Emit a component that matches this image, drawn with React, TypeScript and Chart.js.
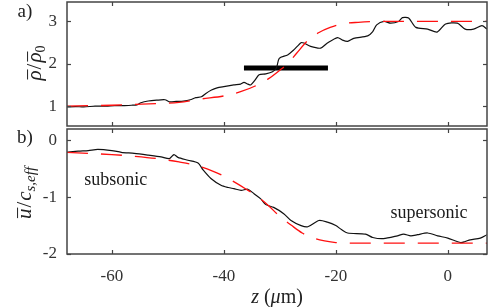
import React, { useEffect, useRef } from "react";
import { Chart, registerables } from "chart.js";
Chart.register(...registerables);

// ---- axes ----
const zMin = -68;
const zMax = 7;
const zTicks = [-60, -40, -20, 0];
const rhoMin = 0.53;
const rhoMax = 3.46;
const rhoTicks = [1, 2, 3];
const uMin = -2;
const uMax = 0.2;
const uTicks = [-2, -1, 0];

// ---- panel a: density ----
const rhoZ = [-68, -66.5, -65, -63, -61, -59.5, -58, -56.5, -55.5, -54.8, -53.5, -52, -50.5, -49.7, -48.5, -47.2, -46, -45, -44, -43.2, -42.2, -41.2, -40, -38.2, -37, -36.4, -35.7, -35.2, -34.5, -33.7, -32.5, -31.3, -30.6, -30.1, -28.6, -27.5, -26.2, -25.7, -24.5, -22.7, -21.5, -19.7, -18.8, -17.9, -16.8, -14.3, -13.4, -12.7, -11.4, -10.2, -8.8, -8.1, -7.0, -5.7, -3.6, -1.9, -0.4, 1.7, 3.1, 4.6, 6.1, 7];
const rhoVals = [0.98, 0.99, 0.98, 1.0, 1.0, 1.01, 1.01, 1.02, 1.03, 1.08, 1.12, 1.14, 1.15, 1.1, 1.11, 1.12, 1.15, 1.2, 1.22, 1.3, 1.38, 1.43, 1.46, 1.5, 1.52, 1.56, 1.52, 1.5, 1.6, 1.74, 1.76, 1.81, 1.9, 2.13, 2.21, 2.33, 2.5, 2.49, 2.41, 2.37, 2.49, 2.62, 2.56, 2.53, 2.6, 2.66, 2.76, 2.92, 3.0, 2.96, 3.0, 3.09, 3.08, 2.86, 2.82, 2.75, 2.94, 2.96, 2.82, 2.82, 2.9, 2.82];
const rhoFitZ = [-68, -64, -60, -56, -52, -48, -44, -40, -37, -34, -32, -30, -28.5, -27, -25, -23, -21, -19, -16, -12, -5, 0, 7];
const rhoFitVals = [1.0, 1.01, 1.02, 1.04, 1.06, 1.09, 1.17, 1.24, 1.34, 1.5, 1.65, 1.85, 2.02, 2.25, 2.55, 2.74, 2.86, 2.94, 2.98, 3.0, 3.0, 3.0, 3.0];
const barZ = [-36.4, -21.4];
const barRho = [1.9, 1.9];

// ---- panel b: velocity ----
const uZ = [-68, -66, -64.2, -62.5, -60, -58.3, -56, -53.5, -51.2, -49.7, -48.9, -48.2, -46.4, -44.6, -43.7, -42.3, -40.5, -39.2, -38.2, -36.9, -35.7, -34.6, -33.4, -32.5, -31.1, -29.3, -28, -26.2, -25, -23, -21.5, -20, -19, -17.9, -14.7, -13.4, -11.5, -9, -7.9, -6.6, -5.4, -3.6, -1.8, 0, 2.3, 3.1, 4, 5.8, 7];
const uVals = [-0.21, -0.19, -0.18, -0.16, -0.18, -0.21, -0.23, -0.26, -0.29, -0.32, -0.25, -0.3, -0.35, -0.4, -0.52, -0.67, -0.79, -0.83, -0.85, -0.88, -0.86, -0.94, -1.03, -1.13, -1.18, -1.29, -1.41, -1.5, -1.52, -1.41, -1.44, -1.5, -1.57, -1.63, -1.65, -1.71, -1.73, -1.68, -1.65, -1.68, -1.66, -1.63, -1.68, -1.72, -1.8, -1.78, -1.75, -1.72, -1.66];
const uFitZ = [-68, -64, -60, -56, -52, -48, -45, -42, -40, -38, -36, -34, -32, -30, -28, -26, -24, -22, -20, -16, -8, 0, 7];
const uFitVals = [-0.21, -0.23, -0.25, -0.28, -0.32, -0.38, -0.44, -0.54, -0.63, -0.74, -0.86, -0.99, -1.15, -1.34, -1.49, -1.63, -1.72, -1.77, -1.8, -1.81, -1.81, -1.81, -1.81];

const notesText = ["subsonic", "supersonic"];
const notesZ = [-59.3, -3.35];
const notesU = [-0.79, -1.36];

const FONT = "'Liberation Serif', 'Times New Roman', serif";
const AXIS = "#444";
const TXT = "#333";
const RED = "#ff1010";

const pts = (xs: number[], ys: number[]) => xs.map((x, i) => ({ x, y: ys[i] }));

type Seg = { t: string; size: number; italic?: boolean; dy?: number; over?: boolean; gap?: number };

function drawSegs(ctx: CanvasRenderingContext2D, segs: Seg[], x: number, y: number, rotate: boolean, color = "#222") {
  ctx.save();
  ctx.translate(x, y);
  if (rotate) ctx.rotate(-Math.PI / 2);
  ctx.fillStyle = color;
  ctx.strokeStyle = color;
  ctx.textAlign = "left";
  ctx.textBaseline = "alphabetic";
  let total = 0;
  const widths = segs.map((s) => {
    ctx.font = `${s.italic ? "italic " : ""}${s.size}px ${FONT}`;
    const w = ctx.measureText(s.t).width + (s.gap || 0);
    total += w;
    return w;
  });
  let cx = -total / 2;
  segs.forEach((s, i) => {
    ctx.font = `${s.italic ? "italic " : ""}${s.size}px ${FONT}`;
    ctx.fillText(s.t, cx, s.dy || 0);
    if (s.over) {
      const tw = ctx.measureText(s.t).width;
      ctx.beginPath();
      ctx.lineWidth = 1;
      ctx.moveTo(cx + 1, -s.size * 0.64);
      ctx.lineTo(cx + tw + 1, -s.size * 0.64);
      ctx.stroke();
    }
    cx += widths[i];
  });
  ctx.restore();
}

function framePlugin(yTicks: number[]) {
  return {
    id: "frame",
    afterDraw(chart: any) {
      const { ctx, chartArea: a, scales } = chart;
      ctx.save();
      ctx.strokeStyle = AXIS;
      ctx.lineWidth = 1.5;
      ctx.strokeRect(a.left, a.top, a.right - a.left, a.bottom - a.top);
      ctx.lineWidth = 1.2;
      const L = 4;
      const seg = (x1: number, y1: number, x2: number, y2: number) => {
        ctx.beginPath();
        ctx.moveTo(x1, y1);
        ctx.lineTo(x2, y2);
        ctx.stroke();
      };
      zTicks.forEach((v) => {
        const px = Math.round(scales.x.getPixelForValue(v)) + 0.5;
        seg(px, a.top, px, a.top + L);
        seg(px, a.bottom, px, a.bottom - L);
      });
      yTicks.forEach((v) => {
        const py = Math.round(scales.y.getPixelForValue(v)) + 0.5;
        seg(a.left, py, a.left + L, py);
        seg(a.right, py, a.right - L, py);
      });
      ctx.restore();
    },
  };
}

const tickFont = { family: FONT, size: 17 };

function makeY(min: number, max: number, ticks: number[]) {
  return {
    min,
    max,
    afterBuildTicks: (s: any) => {
      s.ticks = ticks.map((v) => ({ value: v }));
    },
    afterFit: (s: any) => {
      s.width = 67;
      s.paddingTop = 0;
      s.paddingBottom = 0;
    },
    grid: { display: false, drawTicks: false },
    border: { display: false },
    ticks: { font: tickFont, color: TXT, padding: 10 },
  };
}

export default function App() {
  const topRef = useRef<HTMLCanvasElement>(null);
  const botRef = useRef<HTMLCanvasElement>(null);

  useEffect(() => {
    const labelsA = {
      id: "labelsA",
      afterDraw(chart: any) {
        const ctx = chart.ctx;
        drawSegs(ctx, [{ t: "a)", size: 19 }], 25, 17, false);
        drawSegs(
          ctx,
          [
            { t: "ρ", size: 21, italic: true, over: true, gap: 1 },
            { t: "/", size: 21, gap: 1 },
            { t: "ρ", size: 21, italic: true, over: true },
            { t: "0", size: 14, dy: 4 },
          ],
          41,
          63,
          true
        );
      },
    };
    const labelsB = {
      id: "labelsB",
      afterDraw(chart: any) {
        const ctx = chart.ctx;
        const { scales } = chart;
        drawSegs(ctx, [{ t: "b)", size: 19 }], 25, 15, false);
        drawSegs(
          ctx,
          [
            { t: "u", size: 21, italic: true, over: true, gap: 1 },
            { t: "/", size: 21, gap: 1 },
            { t: "c", size: 21, italic: true },
            { t: "s,eff", size: 15, italic: true, dy: 4 },
          ],
          31,
          65,
          true
        );
        notesText.forEach((t, i) => {
          drawSegs(ctx, [{ t, size: 18 }], scales.x.getPixelForValue(notesZ[i]), scales.y.getPixelForValue(notesU[i]), false, "#1a1a1a");
        });
        const a = chart.chartArea;
        drawSegs(
          ctx,
          [
            { t: "z", size: 20, italic: true },
            { t: " (", size: 20 },
            { t: "μ", size: 20, italic: true },
            { t: "m)", size: 20 },
          ],
          (a.left + a.right) / 2,
          175,
          false,
          "#222"
        );
      },
    };

    const top = new Chart(topRef.current!, {
      type: "line",
      data: {
        datasets: [
          { data: pts(rhoFitZ, rhoFitVals), borderColor: RED, borderWidth: 1.3, borderDash: [21, 13], pointRadius: 0, cubicInterpolationMode: "monotone" },
          { data: pts(rhoZ, rhoVals), borderColor: "#111", borderWidth: 1.2, pointRadius: 0, tension: 0.25 },
          { data: pts(barZ, barRho), borderColor: "#000", borderWidth: 5, pointRadius: 0, borderCapStyle: "butt" },
        ],
      } as any,
      options: {
        responsive: false,
        animation: false,
        events: [],
        layout: { padding: { left: 0, right: 4, top: 2, bottom: 2 } },
        plugins: { legend: { display: false }, tooltip: { enabled: false } },
        scales: {
          x: { type: "linear", min: zMin, max: zMax, display: false },
          y: makeY(rhoMin, rhoMax, rhoTicks) as any,
        },
      },
      plugins: [framePlugin(rhoTicks), labelsA],
    });

    const bot = new Chart(botRef.current!, {
      type: "line",
      data: {
        datasets: [
          { data: pts(uFitZ, uFitVals), borderColor: RED, borderWidth: 1.3, borderDash: [21, 13], pointRadius: 0, cubicInterpolationMode: "monotone" },
          { data: pts(uZ, uVals), borderColor: "#111", borderWidth: 1.2, pointRadius: 0, tension: 0.25 },
        ],
      } as any,
      options: {
        responsive: false,
        animation: false,
        events: [],
        layout: { padding: { left: 0, right: 4, top: 1, bottom: 0 } },
        plugins: { legend: { display: false }, tooltip: { enabled: false } },
        scales: {
          x: {
            type: "linear",
            min: zMin,
            max: zMax,
            afterBuildTicks: (s: any) => {
              s.ticks = zTicks.map((v) => ({ value: v }));
            },
            afterFit: (s: any) => {
              s.height = 53;
              s.paddingLeft = 0;
              s.paddingRight = 0;
            },
            grid: { display: false, drawTicks: false },
            border: { display: false },
            ticks: { font: tickFont, color: TXT, padding: 12, maxRotation: 0 },
          },
          y: makeY(uMin, uMax, uTicks) as any,
        },
      },
      plugins: [framePlugin(uTicks), labelsB],
    });

    return () => {
      top.destroy();
      bot.destroy();
    };
  }, []);

  return (
    <div style={{ position: "absolute", left: 0, top: 0, width: 491, height: 307, background: "#fff", overflow: "hidden" }}>
      <canvas ref={topRef} width={491} height={128} style={{ position: "absolute", left: 0, top: 0 }} />
      <canvas ref={botRef} width={491} height={179} style={{ position: "absolute", left: 0, top: 128 }} />
    </div>
  );
}
